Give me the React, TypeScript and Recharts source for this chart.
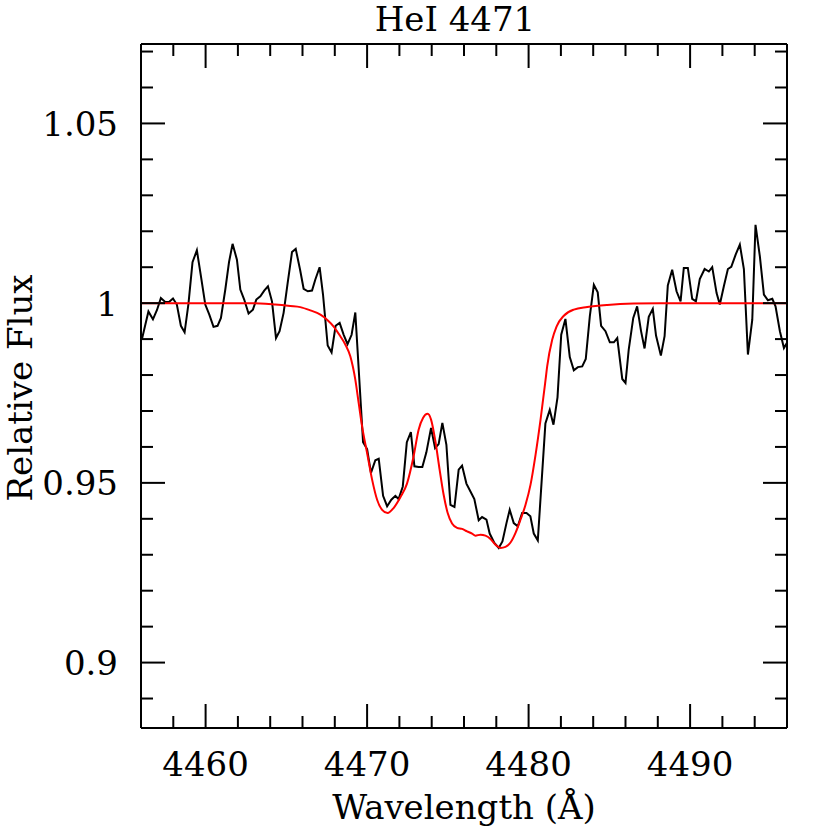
import { LineChart, Line, XAxis, YAxis } from 'recharts';

const WAVE_OBS = [
  4456.06, 4456.46, 4456.74, 4456.99, 4457.23, 4457.50, 4457.75, 4457.98, 4458.22, 4458.47,
  4458.70, 4458.94, 4459.19, 4459.46, 4459.71, 4459.98, 4460.23, 4460.49, 4460.74, 4460.95,
  4461.22, 4461.45, 4461.67, 4461.94, 4462.15, 4462.39, 4462.66, 4462.93, 4463.14, 4463.39,
  4463.63, 4463.86, 4464.11, 4464.36, 4464.58, 4464.83, 4465.08, 4465.35, 4465.58, 4465.85,
  4466.07, 4466.33, 4466.59, 4466.79, 4467.06, 4467.27, 4467.56, 4467.80, 4468.05, 4468.30,
  4468.55, 4468.79, 4469.04, 4469.27, 4469.75, 4470.00, 4470.24, 4470.51, 4470.72, 4470.99,
  4471.24, 4471.50, 4471.75, 4471.95, 4472.21, 4472.46, 4472.71, 4472.93, 4473.19, 4473.42,
  4473.67, 4473.96, 4474.21, 4474.43, 4474.66, 4474.91, 4475.16, 4475.41, 4475.67, 4475.88,
  4476.15, 4476.40, 4476.64, 4476.91, 4477.12, 4477.39, 4477.59, 4477.88, 4478.15, 4478.38,
  4478.63, 4478.83, 4479.08, 4479.33, 4479.60, 4479.87, 4480.11, 4480.32, 4480.57, 4481.04,
  4481.31, 4481.54, 4481.79, 4482.02, 4482.28, 4482.55, 4482.80, 4483.05, 4483.32, 4483.54,
  4483.79, 4484.04, 4484.28, 4484.49, 4484.76, 4485.03, 4485.28, 4485.49, 4485.80, 4486.00,
  4486.20, 4486.48, 4486.72, 4486.96, 4487.18, 4487.44, 4487.69, 4487.89, 4488.19, 4488.42,
  4488.62, 4488.89, 4489.16, 4489.41, 4489.61, 4489.86, 4490.13, 4490.36, 4490.60, 4490.90,
  4491.16, 4491.37, 4491.64, 4491.84, 4492.09, 4492.34, 4492.55, 4492.82, 4493.08, 4493.33,
  4493.58, 4493.85, 4494.05, 4494.32, 4494.57, 4494.82, 4495.09, 4495.29, 4495.56, 4495.81,
  4496.00,
];

const FLUX_OBS = [
  0.9900, 0.9977, 0.9955, 0.9981, 1.0014, 1.0003, 1.0004, 1.0013, 0.9996, 0.9937,
  0.9919, 0.9999, 1.0114, 1.0147, 1.0075, 0.9996, 0.9968, 0.9934, 0.9937, 0.9959,
  1.0038, 1.0114, 1.0165, 1.0121, 1.0038, 1.0010, 0.9971, 0.9982, 1.0010, 1.0019,
  1.0035, 1.0047, 1.0005, 0.9903, 0.9922, 0.9973, 1.0056, 1.0142, 1.0151, 1.0093,
  1.0040, 1.0033, 1.0035, 1.0065, 1.0100, 1.0024, 0.9882, 0.9863, 0.9937, 0.9945,
  0.9912, 0.9886, 0.9912, 0.9974, 0.9613, 0.9594, 0.9528, 0.9563, 0.9567, 0.9464,
  0.9435, 0.9453, 0.9464, 0.9455, 0.9490, 0.9613, 0.9641, 0.9546, 0.9544, 0.9544,
  0.9585, 0.9653, 0.9597, 0.9608, 0.9667, 0.9606, 0.9439, 0.9433, 0.9537, 0.9548,
  0.9498, 0.9476, 0.9455, 0.9396, 0.9405, 0.9398, 0.9359, 0.9333, 0.9319, 0.9337,
  0.9388, 0.9425, 0.9388, 0.9379, 0.9416, 0.9416, 0.9407, 0.9359, 0.9340, 0.9665,
  0.9703, 0.9662, 0.9738, 0.9912, 0.9956, 0.9850, 0.9813, 0.9822, 0.9824, 0.9845,
  0.9963, 1.0051, 1.0030, 0.9937, 0.9922, 0.9891, 0.9891, 0.9903, 0.9789, 0.9778,
  0.9871, 0.9959, 0.9991, 0.9923, 0.9874, 0.9962, 0.9984, 0.9910, 0.9854, 0.9908,
  1.0049, 1.0093, 1.0033, 1.0005, 1.0098, 1.0098, 1.0012, 1.0005, 1.0067, 1.0095,
  1.0088, 1.0100, 1.0028, 0.9996, 1.0047, 1.0095, 1.0101, 1.0135, 1.0163, 1.0095,
  0.9857, 0.9954, 1.0218, 1.0130, 1.0024, 1.0008, 1.0012, 0.9991, 0.9922, 0.9875,
  0.9890,
];

// model fit (red)
const WAVE_MODEL = [
  4456.00, 4460.00, 4462.15, 4463.39, 4464.31, 4465.24, 4465.86, 4466.48, 4467.11, 4467.52,
  4467.93, 4468.34, 4468.65, 4468.96, 4469.27, 4469.48, 4469.69, 4470.00, 4470.31, 4470.62,
  4470.93, 4471.27, 4471.64, 4472.06, 4472.47, 4472.88, 4473.19, 4473.47, 4473.75, 4473.96,
  4474.23, 4474.49, 4474.74, 4474.99, 4475.26, 4475.57, 4475.88, 4476.19, 4476.50, 4476.71,
  4477.02, 4477.33, 4477.64, 4477.95, 4478.26, 4478.57, 4478.88, 4479.19, 4479.50, 4479.81,
  4480.12, 4480.43, 4480.74, 4481.05, 4481.15, 4481.46, 4481.73, 4482.18, 4482.80, 4483.63,
  4484.87, 4486.51, 4488.17, 4496.00,
];

const FLUX_MODEL = [
  1.0000, 1.0000, 1.0000, 0.9999, 0.9996, 0.9992, 0.9989, 0.9980, 0.9968, 0.9954,
  0.9935, 0.9908, 0.9885, 0.9852, 0.9787, 0.9722, 0.9657, 0.9583, 0.9509, 0.9453,
  0.9425, 0.9416, 0.9430, 0.9460, 0.9498, 0.9574, 0.9648, 0.9681, 0.9692, 0.9676,
  0.9615, 0.9537, 0.9467, 0.9416, 0.9387, 0.9375, 0.9372, 0.9365, 0.9359, 0.9353,
  0.9356, 0.9353, 0.9344, 0.9328, 0.9319, 0.9322, 0.9334, 0.9361, 0.9398, 0.9439,
  0.9495, 0.9578, 0.9676, 0.9787, 0.9824, 0.9898, 0.9935, 0.9965, 0.9982, 0.9989,
  0.9995, 0.9999, 1.0000, 1.0000,
];

const X_TICKS = [
  4458, 4460, 4462, 4464, 4466, 4468, 4470, 4472, 4474, 4476,
  4478, 4480, 4482, 4484, 4486, 4488, 4490, 4492, 4494,
];
const Y_TICKS = [
  0.89, 0.90, 0.91, 0.92, 0.93, 0.94, 0.95, 0.96, 0.97, 0.98,
  0.99, 1.00, 1.01, 1.02, 1.03, 1.04, 1.05, 1.06, 1.07,
];

const TITLE = 'HeI 4471';
const X_TITLE = 'Wavelength (Å)';
const Y_TITLE = 'Relative Flux';

const W = 830;
const H = 830;
const PLOT = { left: 141, right: 787, top: 44, bottom: 728 };
const FONT = 'DejaVu Serif';
const FS = 34;
const MAJOR = 24;
const MINOR = 12;

const obsData = WAVE_OBS.map((w, i) => ({ w, f: FLUX_OBS[i] }));
const modelData = WAVE_MODEL.map((w, i) => ({ w, f: FLUX_MODEL[i] }));

const isMajorX = (v: number) => Math.round(v) % 10 === 0;
const isMajorY = (v: number) => Math.round(v * 100) % 5 === 0;

const BottomTick = ({ x, payload }: any) => {
  const major = isMajorX(payload.value);
  return (
    <g>
      <line x1={x} x2={x} y1={PLOT.bottom} y2={PLOT.bottom - (major ? MAJOR : MINOR)} stroke="#000" strokeWidth={2} />
      {major && (
        <text x={x} y={776} textAnchor="middle" fontSize={FS} fontFamily={FONT} fill="#000">
          {payload.value}
        </text>
      )}
    </g>
  );
};

const TopTick = ({ x, payload }: any) => {
  const major = isMajorX(payload.value);
  return <line x1={x} x2={x} y1={PLOT.top} y2={PLOT.top + (major ? MAJOR : MINOR)} stroke="#000" strokeWidth={2} />;
};

const LeftTick = ({ y, payload }: any) => {
  const major = isMajorY(payload.value);
  return (
    <g>
      <line x1={PLOT.left} x2={PLOT.left + (major ? MAJOR : MINOR)} y1={y} y2={y} stroke="#000" strokeWidth={2} />
      {major && (
        <text x={118} y={y + 12.5} textAnchor="end" fontSize={FS} fontFamily={FONT} fill="#000">
          {String(Number(payload.value.toFixed(2)))}
        </text>
      )}
    </g>
  );
};

const RightTick = ({ y, payload }: any) => {
  const major = isMajorY(payload.value);
  return <line x1={PLOT.right} x2={PLOT.right - (major ? MAJOR : MINOR)} y1={y} y2={y} stroke="#000" strokeWidth={2} />;
};

export default function App() {
  return (
    <div style={{ position: 'absolute', left: 0, top: 0, width: W, height: H, background: '#fff' }}>
      <LineChart width={W} height={H} margin={{ top: 0, right: 0, bottom: 0, left: 0 }}>
        <XAxis
          xAxisId="bottom"
          type="number"
          dataKey="w"
          domain={[4456, 4496]}
          allowDataOverflow
          ticks={X_TICKS}
          interval={0}
          height={H - PLOT.bottom}
          axisLine={{ stroke: '#000', strokeWidth: 2 }}
          tickLine={false}
          tick={<BottomTick />}
          label={() => (
            <text x={464} y={819} textAnchor="middle" fontSize={FS} fontFamily={FONT} fill="#000">
              {X_TITLE}
            </text>
          )}
        />
        <XAxis
          xAxisId="top"
          orientation="top"
          type="number"
          dataKey="w"
          domain={[4456, 4496]}
          allowDataOverflow
          ticks={X_TICKS}
          interval={0}
          height={PLOT.top}
          axisLine={{ stroke: '#000', strokeWidth: 2 }}
          tickLine={false}
          tick={<TopTick />}
          label={() => (
            <text x={455} y={31} textAnchor="middle" fontSize={FS} fontFamily={FONT} fill="#000">
              {TITLE}
            </text>
          )}
        />
        <YAxis
          yAxisId="left"
          type="number"
          domain={[0.8818, 1.0721]}
          allowDataOverflow
          ticks={Y_TICKS}
          interval={0}
          width={PLOT.left}
          axisLine={{ stroke: '#000', strokeWidth: 2 }}
          tickLine={false}
          tick={<LeftTick />}
          label={() => (
            <text
              x={32}
              y={388}
              transform="rotate(-90 32 388)"
              textAnchor="middle"
              fontSize={FS}
              fontFamily={FONT}
              fill="#000"
            >
              {Y_TITLE}
            </text>
          )}
        />
        <YAxis
          yAxisId="right"
          orientation="right"
          type="number"
          domain={[0.8818, 1.0721]}
          allowDataOverflow
          ticks={Y_TICKS}
          interval={0}
          width={W - PLOT.right}
          axisLine={{ stroke: '#000', strokeWidth: 2 }}
          tickLine={false}
          tick={<RightTick />}
        />
        <Line
          xAxisId="bottom"
          yAxisId="left"
          data={obsData}
          dataKey="f"
          type="linear"
          stroke="#000"
          strokeWidth={2}
          dot={false}
          isAnimationActive={false}
        />
        <Line
          xAxisId="bottom"
          yAxisId="left"
          data={modelData}
          dataKey="f"
          type="monotone"
          stroke="#ff0000"
          strokeWidth={2}
          dot={false}
          isAnimationActive={false}
        />
      </LineChart>
    </div>
  );
}
